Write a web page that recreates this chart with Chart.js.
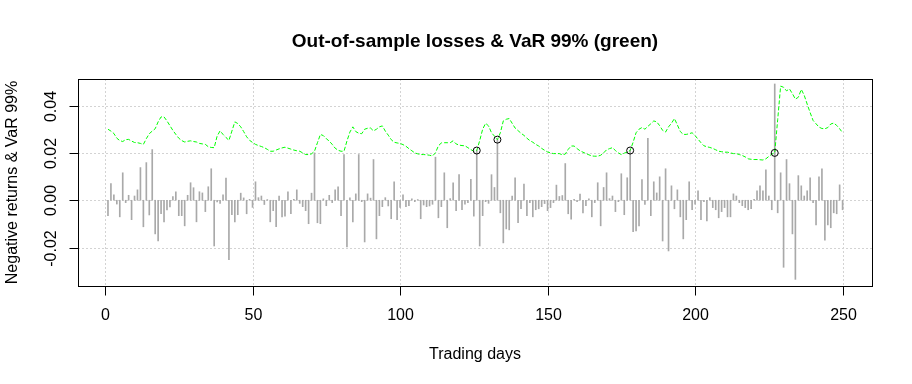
<!DOCTYPE html>
<html>
<head>
<meta charset="utf-8">
<script src="https://cdn.jsdelivr.net/npm/chart.js@4/dist/chart.umd.min.js"></script>
<style>html,body{margin:0;padding:0;background:#fff}</style>
</head>
<body>
<canvas id="chart" width="912" height="384"></canvas>
<script>
// Data
const days = Array.from({length: 250}, (_, i) => i + 1);

const losses = [
  -0.0065, 0.0070, 0.0023, -0.0016, -0.0070, 0.0116, -0.0010, 0.0021, -0.0082, 0.0018,
  0.0044, 0.0138, -0.0112, 0.0159, -0.0062, 0.0214, -0.0142, -0.0172, -0.0057, -0.0091,
  -0.0041, -0.0028, 0.0016, 0.0036, -0.0065, -0.0065, -0.0108, 0.0021, 0.0074, 0.0053,
  -0.0091, 0.0036, 0.0031, -0.0048, 0.0057, 0.0133, -0.0193, -0.0007, -0.0013, 0.0023,
  0.0094, -0.0251, -0.0061, -0.0091, -0.0061, 0.0030, 0.0010, -0.0057, 0.0004, -0.0030,
  0.0078, 0.0011, 0.0018, -0.0018, 0.0003, -0.0091, -0.0044, -0.0112, 0.0018, -0.0070,
  -0.0067, 0.0036, -0.0057, 0.0004, 0.0044, -0.0013, -0.0027, -0.0044, -0.0099, 0.0030,
  0.0200, -0.0095, -0.0099, 0.0006, -0.0023, 0.0021, -0.0010, 0.0044, 0.0057, -0.0065,
  0.0193, -0.0197, 0.0010, -0.0091, 0.0027, 0.0193, -0.0006, -0.0176, 0.0027, 0.0009,
  0.0172, -0.0163, -0.0065, -0.0027, 0.0011, -0.0024, -0.0078, 0.0078, -0.0082, -0.0030,
  0.0023, -0.0027, -0.0023, 0.0006, -0.0006, 0.0003, -0.0078, -0.0020, -0.0027, -0.0024,
  -0.0017, 0.0182, -0.0074, -0.0027, 0.0116, -0.0116, 0.0007, 0.0074, -0.0044, 0.0108,
  -0.0040, -0.0016, -0.0010, 0.0088, -0.0067, 0.0212, -0.0193, -0.0065, -0.0006, -0.0013,
  0.0108, 0.0054, 0.0258, -0.0053, -0.0180, -0.0121, -0.0125, 0.0018, 0.0095, -0.0095,
  -0.0036, 0.0068, -0.0065, -0.0010, -0.0070, -0.0040, -0.0036, -0.0027, -0.0014, -0.0044,
  -0.0031, -0.0010, 0.0064, 0.0016, 0.0020, 0.0155, -0.0057, -0.0080, 0.0004, -0.0006,
  0.0026, -0.0053, -0.0023, 0.0006, -0.0070, -0.0010, 0.0074, -0.0108, 0.0054, 0.0116,
  0.0007, 0.0018, -0.0048, -0.0006, 0.0112, -0.0061, 0.0095, 0.0212, -0.0133, -0.0129,
  -0.0108, 0.0087, -0.0018, 0.0261, -0.0065, 0.0078, 0.0031, 0.0099, -0.0172, 0.0133,
  -0.0214, 0.0061, -0.0036, 0.0044, -0.0070, -0.0163, -0.0082, 0.0078, -0.0040, -0.0016,
  0.0040, -0.0082, -0.0006, -0.0087, 0.0011, -0.0031, -0.0040, -0.0074, -0.0048, -0.0031,
  -0.0070, -0.0070, 0.0027, 0.0018, -0.0010, -0.0023, -0.0031, -0.0040, -0.0036, 0.0004,
  0.0040, 0.0061, 0.0040, 0.0129, 0.0018, -0.0040, 0.0491, -0.0053, 0.0116, -0.0283,
  0.0172, 0.0070, -0.0142, -0.0334, 0.0104, 0.0061, 0.0018, 0.0040, 0.0095, -0.0010,
  -0.0104, 0.0099, 0.0133, -0.0168, -0.0104, -0.0116, -0.0053, -0.0057, 0.0065, -0.0040
];

const var99 = [
  0.0300, 0.0292, 0.0282, 0.0262, 0.0252, 0.0248, 0.0256, 0.0257, 0.0250, 0.0244,
  0.0243, 0.0240, 0.0236, 0.0260, 0.0281, 0.0292, 0.0302, 0.0331, 0.0352, 0.0352,
  0.0335, 0.0315, 0.0295, 0.0278, 0.0262, 0.0252, 0.0246, 0.0249, 0.0251, 0.0248,
  0.0246, 0.0240, 0.0238, 0.0236, 0.0226, 0.0223, 0.0222, 0.0271, 0.0293, 0.0278,
  0.0265, 0.0253, 0.0292, 0.0331, 0.0324, 0.0310, 0.0290, 0.0268, 0.0253, 0.0244,
  0.0236, 0.0231, 0.0227, 0.0222, 0.0215, 0.0207, 0.0207, 0.0212, 0.0217, 0.0221,
  0.0224, 0.0220, 0.0216, 0.0212, 0.0209, 0.0207, 0.0200, 0.0193, 0.0193, 0.0196,
  0.0207, 0.0243, 0.0278, 0.0273, 0.0260, 0.0250, 0.0236, 0.0220, 0.0211, 0.0207,
  0.0207, 0.0250, 0.0288, 0.0310, 0.0290, 0.0283, 0.0281, 0.0300, 0.0304, 0.0305,
  0.0293, 0.0300, 0.0310, 0.0314, 0.0292, 0.0275, 0.0256, 0.0245, 0.0242, 0.0240,
  0.0235, 0.0228, 0.0218, 0.0209, 0.0200, 0.0196, 0.0193, 0.0193, 0.0192, 0.0190,
  0.0187, 0.0200, 0.0230, 0.0242, 0.0243, 0.0243, 0.0243, 0.0251, 0.0238, 0.0233,
  0.0231, 0.0230, 0.0222, 0.0214, 0.0207, 0.0210, 0.0252, 0.0300, 0.0325, 0.0314,
  0.0285, 0.0271, 0.0256, 0.0285, 0.0335, 0.0342, 0.0345, 0.0325, 0.0305, 0.0294,
  0.0283, 0.0274, 0.0262, 0.0252, 0.0245, 0.0236, 0.0229, 0.0219, 0.0211, 0.0204,
  0.0200, 0.0197, 0.0197, 0.0197, 0.0192, 0.0195, 0.0215, 0.0229, 0.0229, 0.0218,
  0.0209, 0.0203, 0.0197, 0.0192, 0.0187, 0.0186, 0.0186, 0.0190, 0.0200, 0.0213,
  0.0218, 0.0222, 0.0210, 0.0200, 0.0193, 0.0199, 0.0203, 0.0210, 0.0245, 0.0285,
  0.0300, 0.0307, 0.0300, 0.0312, 0.0323, 0.0335, 0.0331, 0.0315, 0.0295, 0.0288,
  0.0310, 0.0325, 0.0345, 0.0318, 0.0290, 0.0278, 0.0278, 0.0281, 0.0285, 0.0273,
  0.0258, 0.0243, 0.0230, 0.0226, 0.0223, 0.0219, 0.0213, 0.0207, 0.0205, 0.0203,
  0.0203, 0.0200, 0.0197, 0.0197, 0.0193, 0.0189, 0.0183, 0.0175, 0.0173, 0.0172,
  0.0172, 0.0171, 0.0170, 0.0175, 0.0185, 0.0195, 0.0200, 0.0340, 0.0482, 0.0477,
  0.0462, 0.0470, 0.0450, 0.0427, 0.0435, 0.0468, 0.0443, 0.0406, 0.0370, 0.0337,
  0.0323, 0.0309, 0.0303, 0.0302, 0.0307, 0.0322, 0.0326, 0.0316, 0.0302, 0.0285
];

const exceedDays = [126, 133, 178, 227];

const xTicks = [0, 50, 100, 150, 200, 250];
const xTickLabels = ["0", "50", "100", "150", "200", "250"];
const yTicks = [-0.02, 0, 0.02, 0.04];
const yTickLabels = ["-0.02", "0.00", "0.02", "0.04"];

const titleText = "Out-of-sample losses & VaR 99% (green)";
const xTitle = "Trading days";
const yTitle = "Negative returns & VaR 99%";

// Style
const font = "'Liberation Sans', Arial, sans-serif";

// R-like frame, grid and labels
const rFrame = {
    id: "rFrame",
    beforeDatasetsDraw(chart) {
        const {ctx, chartArea: a, scales: {x, y}} = chart;
        ctx.save();
        ctx.strokeStyle = "#d3d3d3";
        ctx.lineWidth = 1;
        ctx.setLineDash([2, 2]);
        xTicks.forEach(v => {
            let px = Math.round(x.getPixelForValue(v)) + 0.5;
            ctx.beginPath(); ctx.moveTo(px, a.top); ctx.lineTo(px, a.bottom); ctx.stroke();
        });
        yTicks.forEach(v => {
            let py = Math.round(y.getPixelForValue(v)) + 0.5;
            ctx.beginPath(); ctx.moveTo(a.left, py); ctx.lineTo(a.right, py); ctx.stroke();
        });
        ctx.restore();
    },
    afterDraw(chart) {
        const {ctx, chartArea: a, scales: {x, y}} = chart;
        ctx.save();
        ctx.strokeStyle = "#000";
        ctx.lineWidth = 1;
        ctx.setLineDash([]);
        ctx.strokeRect(Math.round(a.left) + 0.5, Math.round(a.top) + 0.5,
            Math.round(a.right - a.left), Math.round(a.bottom - a.top));

        ctx.fillStyle = "#000";
        ctx.font = "16px " + font;
        ctx.textAlign = "center";
        ctx.textBaseline = "middle";
        let bottom = Math.round(a.bottom) + 0.5;
        xTicks.forEach((v, i) => {
            let px = Math.round(x.getPixelForValue(v)) + 0.5;
            ctx.beginPath(); ctx.moveTo(px, bottom); ctx.lineTo(px, bottom + 9); ctx.stroke();
            ctx.fillText(xTickLabels[i], px, 316);
        });
        let left = Math.round(a.left) + 0.5;
        yTicks.forEach((v, i) => {
            let py = Math.round(y.getPixelForValue(v)) + 0.5;
            ctx.beginPath(); ctx.moveTo(left, py); ctx.lineTo(left - 9, py); ctx.stroke();
            ctx.save();
            ctx.translate(52, py);
            ctx.rotate(-Math.PI / 2);
            ctx.fillText(yTickLabels[i], 0, 0);
            ctx.restore();
        });

        ctx.fillText(xTitle, (a.left + a.right) / 2, 355);
        ctx.save();
        ctx.translate(13, (a.top + a.bottom) / 2);
        ctx.rotate(-Math.PI / 2);
        ctx.fillText(yTitle, 0, 0);
        ctx.restore();

        ctx.font = "bold 19px " + font;
        ctx.fillText(titleText, (a.left + a.right) / 2, 42);
        ctx.restore();
    }
};

// Chart
let chartElement = document.getElementById("chart");
new Chart(chartElement, {
    type: "bar",
    data: {
        datasets: [
            {
                type: "scatter",
                label: "Exceedances",
                data: exceedDays.map(d => ({x: d, y: var99[d - 1]})),
                pointRadius: 3.5,
                pointBorderColor: "#000",
                pointBackgroundColor: "rgba(0,0,0,0)",
                pointBorderWidth: 1,
                order: 1
            },
            {
                type: "line",
                label: "VaR 99%",
                data: days.map((d, i) => ({x: d, y: var99[i]})),
                borderColor: "#00ff00",
                borderWidth: 1,
                borderDash: [4, 2],
                pointRadius: 0,
                tension: 0,
                fill: false,
                order: 2
            },
            {
                type: "bar",
                label: "Losses",
                data: days.map((d, i) => ({x: d, y: losses[i]})),
                backgroundColor: "#a9a9a9",
                borderWidth: 0,
                barThickness: 1,
                order: 3
            }
        ]
    },
    options: {
        responsive: false,
        animation: false,
        layout: {padding: {left: 78, right: 40, top: 79, bottom: 98}},
        plugins: {legend: {display: false}, tooltip: {enabled: false}},
        scales: {
            x: {type: "linear", min: -9.16, max: 259.97, offset: false, display: false},
            y: {type: "linear", min: -0.0362, max: 0.0512, display: false}
        }
    },
    plugins: [rFrame]
});
</script>
</body>
</html>
